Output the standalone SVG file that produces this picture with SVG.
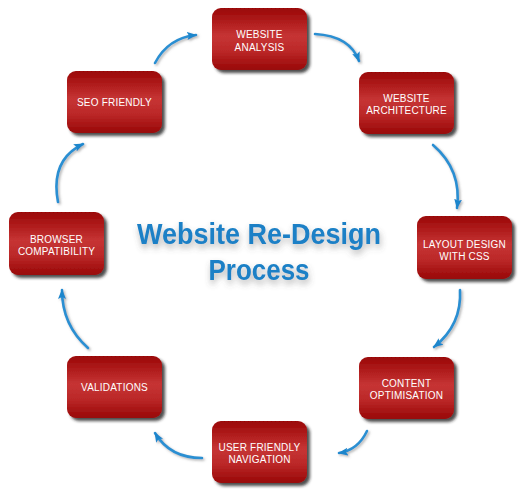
<svg xmlns="http://www.w3.org/2000/svg" width="520" height="493" viewBox="0 0 520 493">
<defs>
<linearGradient id="red" x1="0" y1="0" x2="0" y2="1">
<stop offset="0" stop-color="#9a0606"/>
<stop offset="0.45" stop-color="#c63434"/>
<stop offset="0.7" stop-color="#bb2828"/>
<stop offset="1" stop-color="#980606"/>
</linearGradient>
<filter id="sh" x="-20%" y="-20%" width="150%" height="150%">
<feDropShadow dx="3" dy="3" stdDeviation="1.8" flood-color="#222" flood-opacity="0.8"/>
</filter>
<filter id="tsh" x="-20%" y="-30%" width="140%" height="170%">
<feDropShadow dx="1" dy="4" stdDeviation="3" flood-color="#555" flood-opacity="0.45"/>
</filter>
<filter id="ash" x="-50%" y="-50%" width="200%" height="200%">
<feDropShadow dx="1.5" dy="1.5" stdDeviation="1" flood-color="#666" flood-opacity="0.5"/>
</filter>
<marker id="ah" markerUnits="userSpaceOnUse" markerWidth="12" markerHeight="10" refX="9" refY="4" orient="auto">
<path d="M0,0 L10,4 L0,8 L2,4 z" fill="#1f86cc"/>
</marker>
<style>
.box{fill:url(#red);filter:url(#sh)}
.lbl{font-family:"Liberation Sans",Arial,sans-serif;font-size:10px;letter-spacing:0.2px;fill:#fff;text-anchor:middle}
.con{fill:none;stroke:#2a8fd2;stroke-width:2.6;stroke-linecap:round;marker-end:url(#ah);filter:url(#ash)}
.ttl{font-family:"Liberation Sans",Arial,sans-serif;font-weight:bold;fill:#1a80c6;text-anchor:middle}
</style>
</defs>
<rect width="520" height="493" fill="#fff"/>
<g id="connectors">
<path class="con" d="M315,34 Q350,36 359,61"/>
<path class="con" d="M433,145 Q462,170 457,208"/>
<path class="con" d="M460,290 Q462,325 434,347"/>
<path class="con" d="M367,431 Q358,450 339,453"/>
<path class="con" d="M202,458 Q170,458 155,433"/>
<path class="con" d="M88,348 Q62,325 62,290"/>
<path class="con" d="M58,202 Q50,160 83,144"/>
<path class="con" d="M155,63 Q168,38 196,35"/>
</g>
<g id="title" filter="url(#tsh)">
<text class="ttl" x="259" y="244" font-size="30" textLength="244" lengthAdjust="spacingAndGlyphs">Website Re-Design</text>
<text class="ttl" x="259" y="280" font-size="30" textLength="101" lengthAdjust="spacingAndGlyphs">Process</text>
</g>
<g id="n1"><rect class="box" x="212" y="8" width="95" height="62" rx="9"/><text class="lbl" x="259.5" y="38">WEBSITE</text><text class="lbl" x="259.5" y="51">ANALYSIS</text></g>
<g id="n2"><rect class="box" x="359" y="72" width="95" height="62" rx="9"/><text class="lbl" x="406.5" y="102">WEBSITE</text><text class="lbl" x="406.5" y="114">ARCHITECTURE</text></g>
<g id="n3"><rect class="box" x="417" y="216" width="95" height="63" rx="9"/><text class="lbl" x="464.5" y="248">LAYOUT DESIGN</text><text class="lbl" x="464.5" y="260">WITH CSS</text></g>
<g id="n4"><rect class="box" x="359" y="357" width="95" height="62" rx="9"/><text class="lbl" x="406.5" y="387">CONTENT</text><text class="lbl" x="406.5" y="399">OPTIMISATION</text></g>
<g id="n5"><rect class="box" x="212" y="421" width="95" height="62" rx="9"/><text class="lbl" x="259.5" y="451">USER FRIENDLY</text><text class="lbl" x="259.5" y="463">NAVIGATION</text></g>
<g id="n6"><rect class="box" x="67" y="356" width="95" height="62" rx="9"/><text class="lbl" x="114.5" y="391">VALIDATIONS</text></g>
<g id="n7"><rect class="box" x="9" y="212" width="95" height="63" rx="9"/><text class="lbl" x="56.5" y="243">BROWSER</text><text class="lbl" x="56.5" y="255">COMPATIBILITY</text></g>
<g id="n8"><rect class="box" x="67" y="71" width="95" height="62" rx="9"/><text class="lbl" x="114.5" y="106">SEO FRIENDLY</text></g>
</svg>
